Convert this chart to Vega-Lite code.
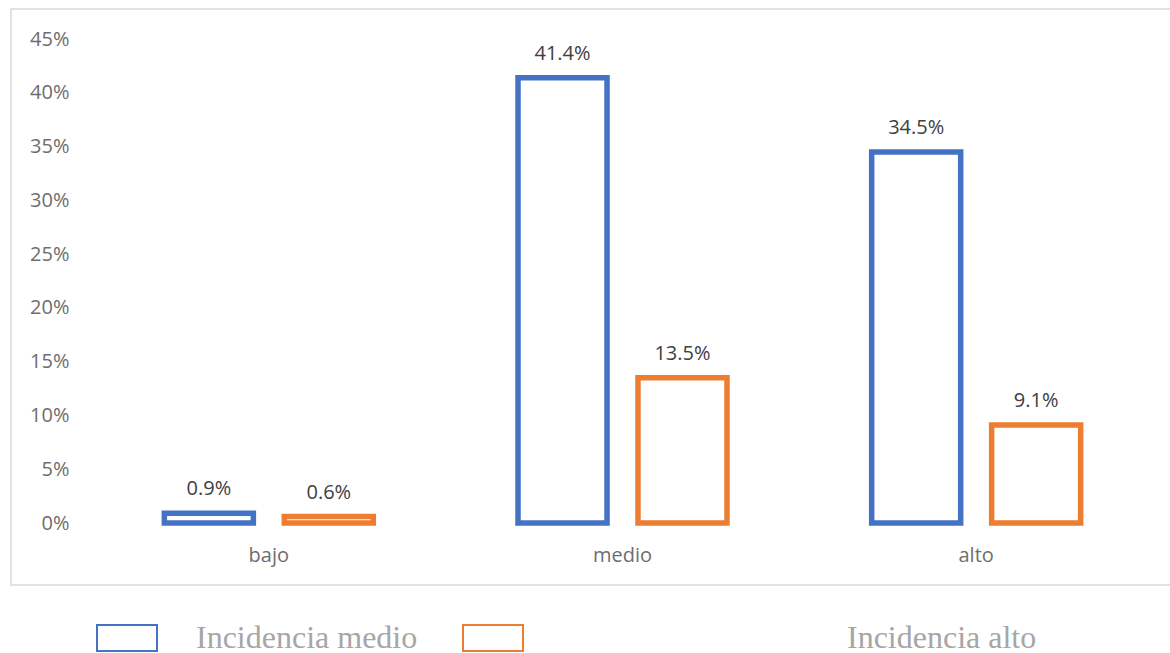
{
  "$schema": "https://vega.github.io/schema/vega-lite/v6.json",
  "autosize": "none",
  "padding": {"left": 11, "top": 9, "right": 0, "bottom": 68},
  "width": 1170,
  "height": 576,
  "background": "white",
  "config": {
    "view": {"stroke": "#D9D9D9", "strokeWidth": 1.5},
    "font": "Open Sans"
  },
  "data": {
    "values": [
      {"nivel": "bajo", "serie": "Incidencia medio", "valor": 0.009, "etiqueta": "0.9%"},
      {"nivel": "bajo", "serie": "Incidencia alto", "valor": 0.006, "etiqueta": "0.6%"},
      {"nivel": "medio", "serie": "Incidencia medio", "valor": 0.414, "etiqueta": "41.4%"},
      {"nivel": "medio", "serie": "Incidencia alto", "valor": 0.135, "etiqueta": "13.5%"},
      {"nivel": "alto", "serie": "Incidencia medio", "valor": 0.345, "etiqueta": "34.5%"},
      {"nivel": "alto", "serie": "Incidencia alto", "valor": 0.091, "etiqueta": "9.1%"}
    ]
  },
  "encoding": {
    "x": {
      "field": "nivel",
      "type": "nominal",
      "sort": ["bajo", "medio", "alto"],
      "scale": {"range": [81, 1142], "paddingInner": 0, "paddingOuter": 0},
      "axis": {
        "title": null,
        "domain": false,
        "ticks": false,
        "offset": -62,
        "labelPadding": 22,
        "labelAngle": 0,
        "labelFont": "Open Sans",
        "labelFontSize": 20,
        "labelColor": "#6E6E6E"
      }
    },
    "xOffset": {
      "field": "serie",
      "type": "nominal",
      "sort": ["Incidencia medio", "Incidencia alto"],
      "scale": {"paddingInner": 0.258, "paddingOuter": 0.603}
    },
    "y": {
      "field": "valor",
      "type": "quantitative",
      "scale": {"domain": [0, 0.45], "range": [514, 30], "nice": false, "zero": true},
      "axis": {
        "title": null,
        "domain": false,
        "ticks": false,
        "grid": false,
        "values": [0, 0.05, 0.1, 0.15, 0.2, 0.25, 0.3, 0.35, 0.4, 0.45],
        "format": ".0%",
        "offset": -60,
        "labelPadding": 2,
        "labelFont": "Open Sans",
        "labelFontSize": 20,
        "labelColor": "#6E6E6E"
      }
    }
  },
  "layer": [
    {
      "mark": {"type": "bar", "fill": "white", "strokeWidth": 5.5, "strokeJoin": "miter"},
      "encoding": {
        "stroke": {
          "field": "serie",
          "type": "nominal",
          "sort": ["Incidencia medio", "Incidencia alto"],
          "scale": {"domain": ["Incidencia medio", "Incidencia alto"], "range": ["#4472C4", "#ED7D31"]},
          "legend": {
            "title": null,
            "orient": "none",
            "legendX": 85,
            "legendY": 598,
            "direction": "horizontal",
            "columns": 2,
            "columnPadding": 41,
            "padding": 0,
            "symbolType": "M-1,-0.433H1V0.433H-1Z",
            "symbolSize": 3600,
            "symbolStrokeWidth": 2,
            "symbolFillColor": "white",
            "labelFont": "Liberation Serif",
            "labelFontSize": 32,
            "labelColor": "#A6A6A6",
            "labelOffset": 38,
            "labelLimit": 0,
            "encoding": {
              "labels": {
                "dx": {"value": {"expr": "datum.index == 1 ? 285 : 0"}}
              }
            }
          }
        }
      }
    },
    {
      "mark": {
        "type": "text",
        "baseline": "alphabetic",
        "dy": -18,
        "font": "Open Sans",
        "fontSize": 20,
        "color": "#404040"
      },
      "encoding": {
        "text": {"field": "etiqueta"}
      }
    }
  ]
}
